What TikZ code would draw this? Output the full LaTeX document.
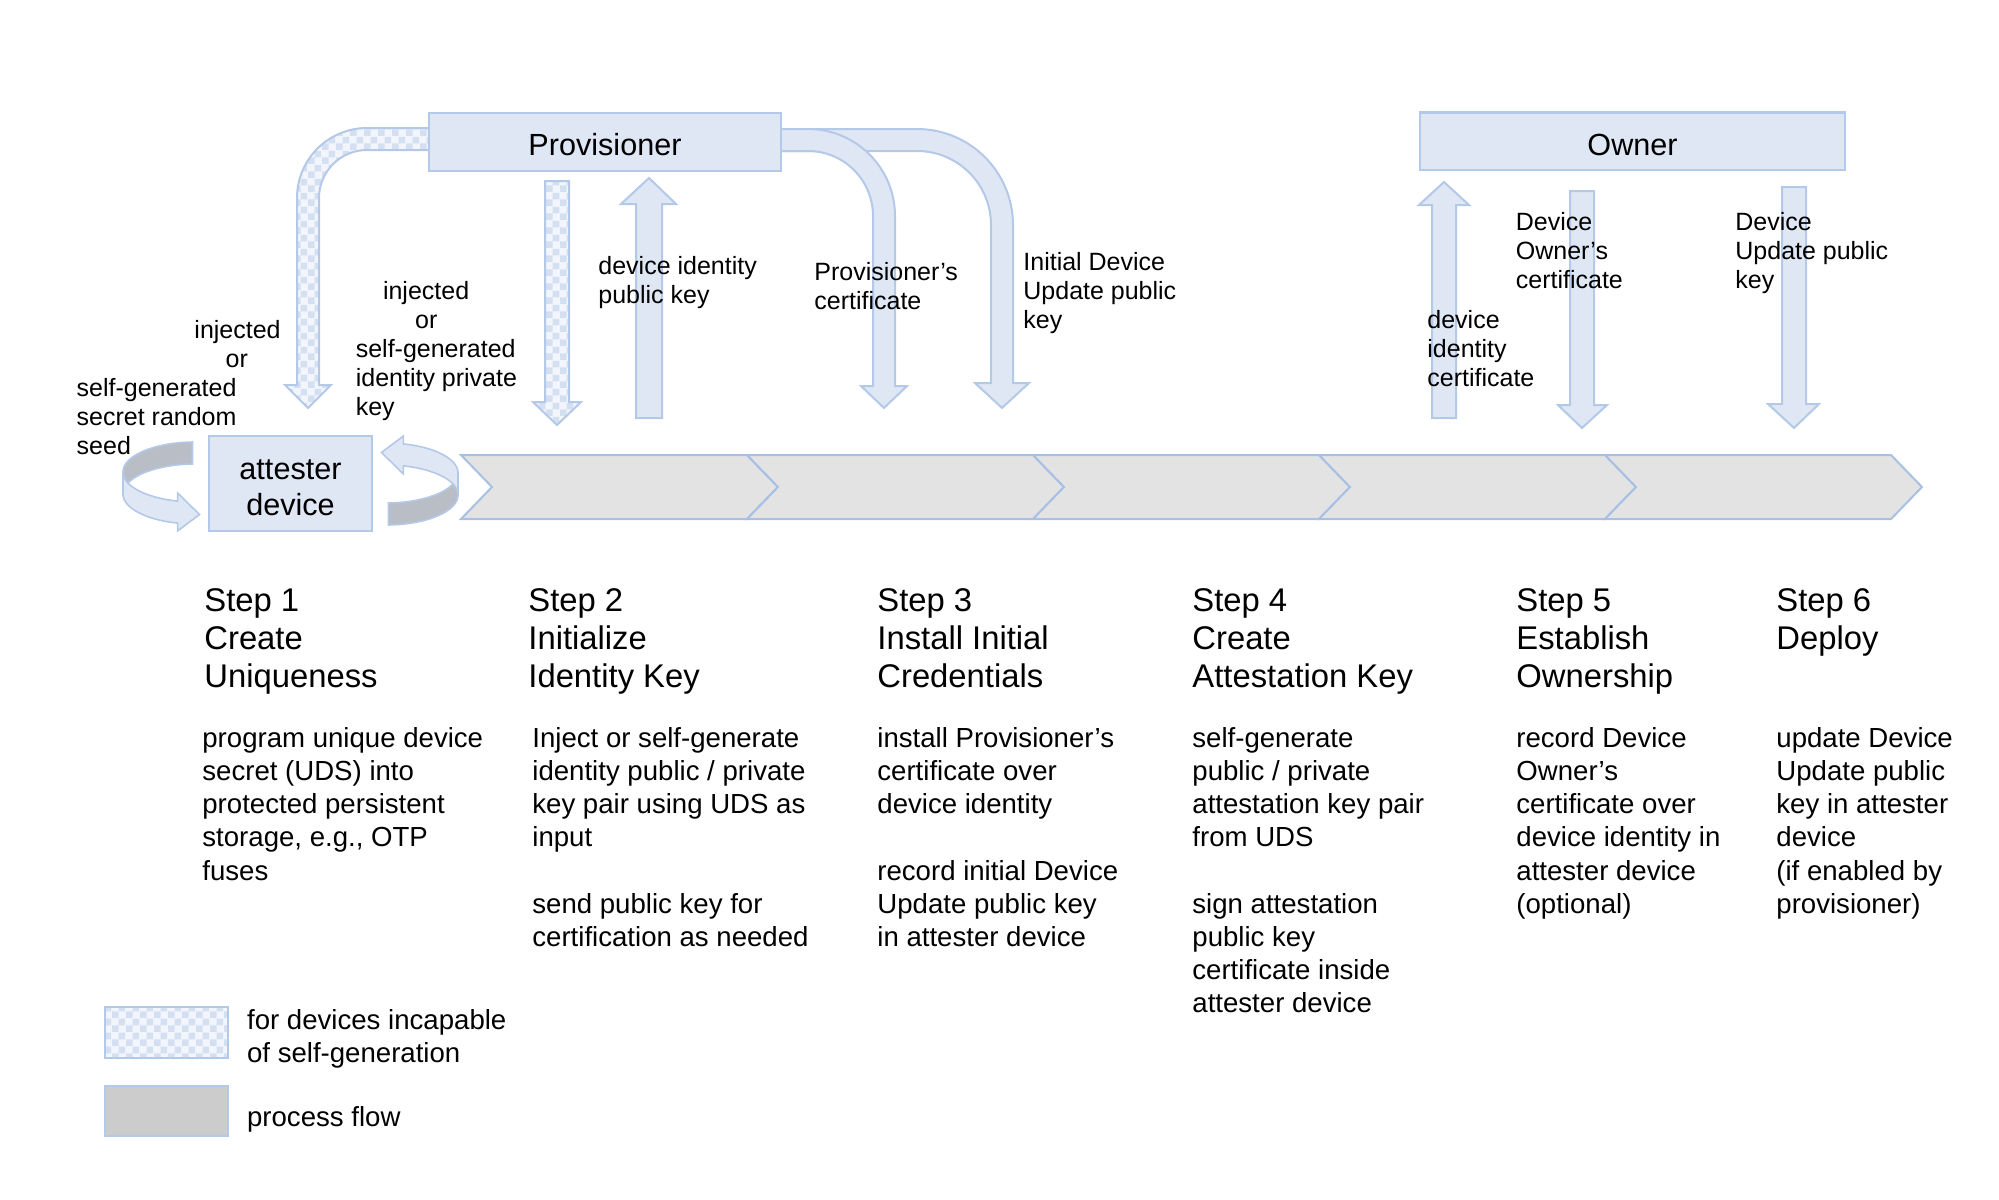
\documentclass[tikz,border=0pt]{standalone}
\usepackage{fontspec}
\setmainfont{Liberation Sans}
\usetikzlibrary{patterns}
\definecolor{boxfill}{RGB}{223,231,245}
\definecolor{boxline}{RGB}{180,200,232}
\definecolor{bandfill}{RGB}{227,227,227}
\definecolor{bandline}{RGB}{168,192,228}
\definecolor{ribbongray}{RGB}{185,190,198}
\definecolor{legendgray}{RGB}{204,204,204}
\definecolor{checkblue}{RGB}{212,224,242}
\definecolor{checklight}{RGB}{242,246,252}

\pgfdeclarepatternformonly{seedchecks}{\pgfpointorigin}{\pgfqpoint{7pt}{7pt}}{\pgfqpoint{7pt}{7pt}}{%
  \pgfpathrectangle{\pgfpointorigin}{\pgfqpoint{3.5pt}{3.5pt}}%
  \pgfpathrectangle{\pgfqpoint{3.5pt}{3.5pt}}{\pgfqpoint{3.5pt}{3.5pt}}%
  \pgfusepath{fill}}

% ribbon loop beside the attester device
\newcommand{\seedloop}{%
  \draw[ribbonback] plot[domain=268:180,samples=40] ({195+72*cos(\x)},{472+30*sin(\x)})
    -- plot[domain=180:268,samples=40] ({195+72*cos(\x)},{494+30*sin(\x)}) -- cycle;
  \draw[ribbonfront] plot[domain=180:104,samples=40] ({195+72*cos(\x)},{472+30*sin(\x)})
    -- (177.6,493) -- (199.5,514.5) -- (177.6,531)
    -- plot[domain=104:180,samples=40] ({195+72*cos(\x)},{494+30*sin(\x)}) -- cycle;
}

\begin{document}
\begin{tikzpicture}[x=0.5pt, y=-0.5pt,
  lbl/.style={font=\fontsize{12.5}{14.5}\selectfont, align=left, anchor=north west, inner sep=0pt, execute at begin node=\strut},
  steptitle/.style={font=\fontsize{16.4}{19}\selectfont, align=left, anchor=north west, inner sep=0pt, execute at begin node=\strut},
  stepdesc/.style={font=\fontsize{13.8}{16.6}\selectfont, align=left, anchor=north west, inner sep=0pt, execute at begin node=\strut},
  actorbox/.style={draw=boxline, fill=boxfill, line width=1.2pt, font=\fontsize{15.3}{17.8}\selectfont, inner sep=0pt, align=center},
  blockarrow/.style={draw=boxline, fill=boxfill, line width=1pt, line join=miter},
  seedarrow/.style={draw=boxline, line width=1pt, line join=miter, preaction={fill=checklight}, pattern=seedchecks, pattern color=checkblue},
  ribbonback/.style={draw=boxline, fill=ribbongray, line width=0.8pt},
  ribbonfront/.style={draw=boxline, fill=boxfill, line width=0.8pt, line join=miter},
  flowseg/.style={draw=bandline, fill=bandfill, line width=1pt, line join=miter}]
\useasboundingbox (0,0) rectangle (1999,1200);

% Provisioner -> attester (injected seed)
\draw[seedarrow] (440,128) -- (367,128) arc (270:180:70) -- (297,385) -- (285,385) -- (308,408)
  -- (331,385) -- (319,385) -- (319,198) arc (180:270:48) -- (440,150) -- cycle;
% Provisioner -> Initial Device Update public key
\draw[blockarrow] (760,129) -- (917,129) arc (270:360:96) -- (1013,383) -- (1029,383) -- (1002,408)
  -- (975,383) -- (991,383) -- (991,225) arc (0:-90:74) -- (760,151) -- cycle;
% Provisioner -> Provisioner's certificate
\draw[blockarrow] (760,129) -- (808,129) arc (270:360:87) -- (895,386) -- (907,386) -- (884,408)
  -- (861,386) -- (873,386) -- (873,216) arc (0:-90:65) -- (760,151) -- cycle;
% identity private key, public key
\draw[seedarrow] (545,181) -- (569,181) -- (569,402) -- (581,402) -- (557,425) -- (533,402) -- (545,402) -- cycle;
\draw[blockarrow] (636,418) -- (636,204) -- (621,204) -- (649,178) -- (676,204) -- (662,204) -- (662,418) -- cycle;
% Owner arrows
\draw[blockarrow] (1432,418) -- (1432,205) -- (1419,205) -- (1444,182) -- (1469,205) -- (1456,205) -- (1456,418) -- cycle;
\draw[blockarrow] (1570,191) -- (1594,191) -- (1594,405) -- (1607,405) -- (1582,428) -- (1558,405) -- (1570,405) -- cycle;
\draw[blockarrow] (1782,187) -- (1806,187) -- (1806,404) -- (1819,404) -- (1794,428) -- (1768,404) -- (1782,404) -- cycle;

% Actors
\node[actorbox, minimum width=176pt, minimum height=29pt, text height=14pt] (prov) at (605,142) {Provisioner};
\node[actorbox, minimum width=212.5pt, minimum height=28.75pt, text height=14pt] (owner) at (1632.5,141.25) {Owner};
\node[actorbox, minimum width=81.5pt, minimum height=47.5pt, text height=31.7pt] (attester) at (290.5,483.5) {attester\\device};

% Loops around the attester device
\seedloop
\begin{scope}[rotate around={180:(290.5,483.5)}]
  \seedloop
\end{scope}

% Process flow
\foreach \i in {0,...,4}{
  \draw[flowseg] ({461+286*\i},455) -- ({747+286*\i},455) -- ({778+286*\i},487)
    -- ({747+286*\i},519) -- ({461+286*\i},519) -- ({492+286*\i},487) -- cycle;
}

% Arrow labels
\node[lbl] (seedlbl) at (76.3,319.7) {\hspace*{58.9pt}injected\\\hspace*{74.5pt}or\\self-generated\\secret random\\seed};
\node[lbl] (privlbl) at (355.4,280.7) {\hspace*{13.6pt}injected\\\hspace*{29.7pt}or\\self-generated\\identity private\\key};
\node[lbl] (pubkeylbl) at (598,255.7) {device identity\\public key};
\node[lbl] (provcertlbl) at (814,261.7) {Provisioner’s\\certificate};
\node[lbl] (updkeylbl) at (1023,251.7) {Initial Device\\Update public\\key};
\node[lbl] (devcertlbl) at (1427,309.7) {device\\identity\\certificate};
\node[lbl] (ownercertlbl) at (1515.5,211.7) {Device\\Owner’s\\certificate};
\node[lbl] (ownerupdlbl) at (1735,211.7) {Device\\Update public\\key};

% Steps
\node[steptitle] (step1) at (204,588.4) {Step 1\\Create\\Uniqueness};
\node[steptitle] (step2) at (528,588.4) {Step 2\\Initialize\\Identity Key};
\node[steptitle] (step3) at (877,588.4) {Step 3\\Install Initial\\Credentials};
\node[steptitle] (step4) at (1192,588.4) {Step 4\\Create\\Attestation Key};
\node[steptitle] (step5) at (1516,588.4) {Step 5\\Establish\\Ownership};
\node[steptitle] (step6) at (1776,588.4) {Step 6\\Deploy};

\node[stepdesc] (desc1) at (202,726.8) {program unique device\\secret (UDS) into\\protected persistent\\storage, e.g., OTP\\fuses};
\node[stepdesc] (desc2) at (532,726.8) {Inject or self-generate\\identity public / private\\key pair using UDS as\\input\\[16.6pt]send public key for\\certification as needed};
\node[stepdesc] (desc3) at (877,726.8) {install Provisioner’s\\certificate over\\device identity\\[16.6pt]record initial Device\\Update public key\\in attester device};
\node[stepdesc] (desc4) at (1192,726.8) {self-generate\\public / private\\attestation key pair\\from UDS\\[16.6pt]sign attestation\\public key\\certificate inside\\attester device};
\node[stepdesc] (desc5) at (1516,726.8) {record Device\\Owner’s\\certificate over\\device identity in\\attester device\\(optional)};
\node[stepdesc] (desc6) at (1776,726.8) {update Device\\Update public\\key in attester\\device\\(if enabled by\\provisioner)};

% Legend
\node[seedarrow, minimum width=61.7pt, minimum height=25.3pt, anchor=north west, inner sep=0pt] (legseed) at (103.5,1006) {};
\node[draw=boxline, line width=1pt, fill=legendgray, minimum width=61.7pt, minimum height=25.3pt, anchor=north west, inner sep=0pt] (legflow) at (103.5,1084.5) {};
\node[stepdesc] (legseedtxt) at (246.7,1008.8) {for devices incapable\\of self-generation};
\node[stepdesc] (legflowtxt) at (246.7,1102.5) {process flow};
\end{tikzpicture}
\end{document}
